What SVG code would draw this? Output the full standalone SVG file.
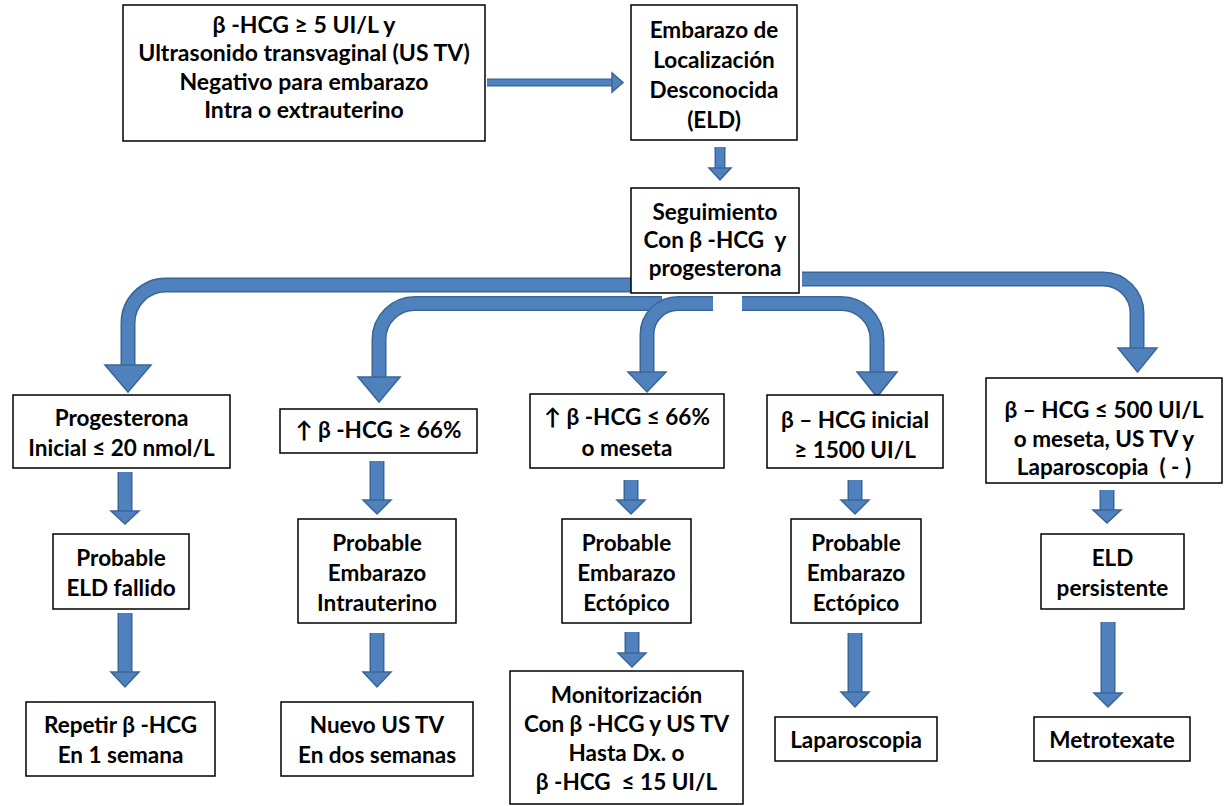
<svg xmlns="http://www.w3.org/2000/svg" width="1224" height="806" viewBox="0 0 1224 806">
<style>
  .box { fill:#ffffff; stroke:#000000; stroke-width:1.5; }
  .t { font-family:"Lato","Carlito","Liberation Sans",sans-serif; font-weight:bold; font-size:22.5px; fill:#000000; text-anchor:middle; white-space:pre; }
  .big { font-size:23px; }
  .so { fill:none; stroke:#3B6599; stroke-width:15; }
  .si { fill:none; stroke:#4F81BD; stroke-width:12; }
  .so2 { fill:none; stroke:#3B6599; stroke-width:11; }
  .si2 { fill:none; stroke:#4F81BD; stroke-width:8; }
  .so3 { fill:none; stroke:#3B6599; stroke-width:8; }
  .si3 { fill:none; stroke:#4F81BD; stroke-width:5.5; }
  .hd { fill:#4F81BD; stroke:#3B6599; stroke-width:1.5; stroke-linejoin:miter; }
</style>
<rect x="0" y="0" width="1224" height="806" fill="#ffffff"/>
<g id="connectors">
  <path class="so3" d="M487,82.5 H613"/>
  <path class="si3" d="M487,82.5 H613"/>
  <polygon class="hd" points="612,73 612,92 623,82.5"/>
  <path class="so2" d="M720,147 V169"/>
  <path class="si2" d="M720,147 V169"/>
  <polygon class="hd" points="709,168 731,168 720,180"/>
  <path class="so" d="M640,285 H166 A38,38 0 0 0 128,323 V366"/>
  <path class="si" d="M640,285 H166 A38,38 0 0 0 128,323 V366"/>
  <polygon class="hd" points="105,365 151,365 128,392"/>
  <path class="so" d="M802,279 H1103 A34,34 0 0 1 1137,313 V349"/>
  <path class="si" d="M802,279 H1103 A34,34 0 0 1 1137,313 V349"/>
  <polygon class="hd" points="1118,348 1157,348 1137.5,372"/>
  <path class="so" d="M662,303.5 H415 A36,36 0 0 0 379,339.5 V378"/>
  <path class="si" d="M662,303.5 H415 A36,36 0 0 0 379,339.5 V378"/>
  <polygon class="hd" points="358,377 400,377 379,402"/>
  <path class="so" d="M713,303.5 H678 A31,31 0 0 0 647,334.5 V373"/>
  <path class="si" d="M713,303.5 H678 A31,31 0 0 0 647,334.5 V373"/>
  <polygon class="hd" points="628,372 666,372 647,392"/>
  <path class="so" d="M742,303.5 H841 A36,36 0 0 1 877,339.5 V373"/>
  <path class="si" d="M742,303.5 H841 A36,36 0 0 1 877,339.5 V373"/>
  <polygon class="hd" points="857,372 897,372 877,397"/>
  <path class="so" d="M125,472 V512"/><path class="si" d="M125,472 V512"/>
  <polygon class="hd" points="111,511 139,511 125,524"/>
  <path class="so" d="M125,613 V673"/><path class="si" d="M125,613 V673"/>
  <polygon class="hd" points="111,672 139,672 125,687"/>
  <path class="so" d="M377,461 V501"/><path class="si" d="M377,461 V501"/>
  <polygon class="hd" points="363,500 391,500 377,514"/>
  <path class="so" d="M377,633 V673"/><path class="si" d="M377,633 V673"/>
  <polygon class="hd" points="363,672 391,672 377,687"/>
  <path class="so" d="M631,480 V501"/><path class="si" d="M631,480 V501"/>
  <polygon class="hd" points="617,500 645,500 631,514"/>
  <path class="so" d="M632,632 V654"/><path class="si" d="M632,632 V654"/>
  <polygon class="hd" points="618,653 646,653 632,667"/>
  <path class="so" d="M855,480 V501"/><path class="si" d="M855,480 V501"/>
  <polygon class="hd" points="841,500 869,500 855,514"/>
  <path class="so" d="M855,633 V693"/><path class="si" d="M855,633 V693"/>
  <polygon class="hd" points="841,692 869,692 855,707"/>
  <path class="so" d="M1107,490 V511"/><path class="si" d="M1107,490 V511"/>
  <polygon class="hd" points="1093,510 1121,510 1107,523"/>
  <path class="so" d="M1108,622 V694"/><path class="si" d="M1108,622 V694"/>
  <polygon class="hd" points="1094,693 1122,693 1108,707"/>
</g>
<g id="n1">
  <rect class="box" x="123" y="5" width="362" height="136"/>
  <text class="t big" x="304" y="33">β -HCG ≥ 5 UI/L y</text>
  <text class="t big" x="304" y="61">Ultrasonido transvaginal (US TV)</text>
  <text class="t big" x="304" y="90">Negativo para embarazo</text>
  <text class="t big" x="304" y="118">Intra o extrauterino</text>
</g>
<g id="n2">
  <rect class="box" x="631" y="5" width="166" height="135"/>
  <text class="t" x="714" y="38">Embarazo de</text>
  <text class="t" x="714" y="68">Localización</text>
  <text class="t" x="714" y="98">Desconocida</text>
  <text class="t" x="714" y="128">(ELD)</text>
</g>
<g id="n3">
  <rect class="box" x="631" y="188" width="168" height="105"/>
  <text class="t" x="715" y="220">Seguimiento</text>
  <text class="t" x="715" y="248">Con β -HCG  y</text>
  <text class="t" x="715" y="276">progesterona</text>
</g>
<g id="n4">
  <rect class="box" x="13" y="395" width="217" height="73"/>
  <text class="t" x="121.5" y="426">Progesterona</text>
  <text class="t" x="121.5" y="456">Inicial ≤ 20 nmol/L</text>
</g>
<g id="n5">
  <rect class="box" x="280" y="409" width="197" height="44"/>
  <text class="t" x="378.5" y="438">↑ β -HCG ≥ 66%</text>
</g>
<g id="n6">
  <rect class="box" x="530" y="394" width="194" height="74"/>
  <text class="t" x="627" y="425">↑ β -HCG ≤ 66%</text>
  <text class="t" x="627" y="456">o meseta</text>
</g>
<g id="n7">
  <rect class="box" x="767" y="395" width="176" height="73"/>
  <text class="t" x="855" y="428">β – HCG inicial</text>
  <text class="t" x="855" y="458">≥ 1500 UI/L</text>
</g>
<g id="n8">
  <rect class="box" x="986" y="378" width="236" height="105"/>
  <text class="t" x="1104" y="418">β – HCG ≤ 500 UI/L</text>
  <text class="t" x="1104" y="447">o meseta, US TV y</text>
  <text class="t" x="1104" y="475">Laparoscopia  ( - )</text>
</g>
<g id="n9">
  <rect class="box" x="53" y="534" width="136" height="75"/>
  <text class="t" x="121" y="566">Probable</text>
  <text class="t" x="121" y="596">ELD fallido</text>
</g>
<g id="n10">
  <rect class="box" x="298" y="519" width="158" height="104"/>
  <text class="t" x="377" y="551">Probable</text>
  <text class="t" x="377" y="581">Embarazo</text>
  <text class="t" x="377" y="611">Intrauterino</text>
</g>
<g id="n11">
  <rect class="box" x="562" y="519" width="129" height="104"/>
  <text class="t" x="626.5" y="551">Probable</text>
  <text class="t" x="626.5" y="581">Embarazo</text>
  <text class="t" x="626.5" y="611">Ectópico</text>
</g>
<g id="n12">
  <rect class="box" x="791" y="519" width="130" height="104"/>
  <text class="t" x="856" y="551">Probable</text>
  <text class="t" x="856" y="581">Embarazo</text>
  <text class="t" x="856" y="611">Ectópico</text>
</g>
<g id="n13">
  <rect class="box" x="1041" y="534" width="143" height="75"/>
  <text class="t" x="1112.5" y="566">ELD</text>
  <text class="t" x="1112.5" y="596">persistente</text>
</g>
<g id="n14">
  <rect class="box" x="26" y="702" width="189" height="74"/>
  <text class="t" x="120.5" y="733">Repetir β -HCG</text>
  <text class="t" x="120.5" y="763">En 1 semana</text>
</g>
<g id="n15">
  <rect class="box" x="281" y="702" width="192" height="74"/>
  <text class="t" x="377" y="733">Nuevo US TV</text>
  <text class="t" x="377" y="763">En dos semanas</text>
</g>
<g id="n16">
  <rect class="box" x="510" y="671" width="233" height="133"/>
  <text class="t" x="626.5" y="703">Monitorización</text>
  <text class="t" x="626.5" y="732">Con β -HCG y US TV</text>
  <text class="t" x="626.5" y="761">Hasta Dx. o</text>
  <text class="t" x="626.5" y="790">β -HCG  ≤ 15 UI/L</text>
</g>
<g id="n17">
  <rect class="box" x="775" y="717" width="162" height="44"/>
  <text class="t" x="856" y="748">Laparoscopia</text>
</g>
<g id="n18">
  <rect class="box" x="1034" y="717" width="156" height="44"/>
  <text class="t" x="1112" y="748">Metrotexate</text>
</g>
</svg>
